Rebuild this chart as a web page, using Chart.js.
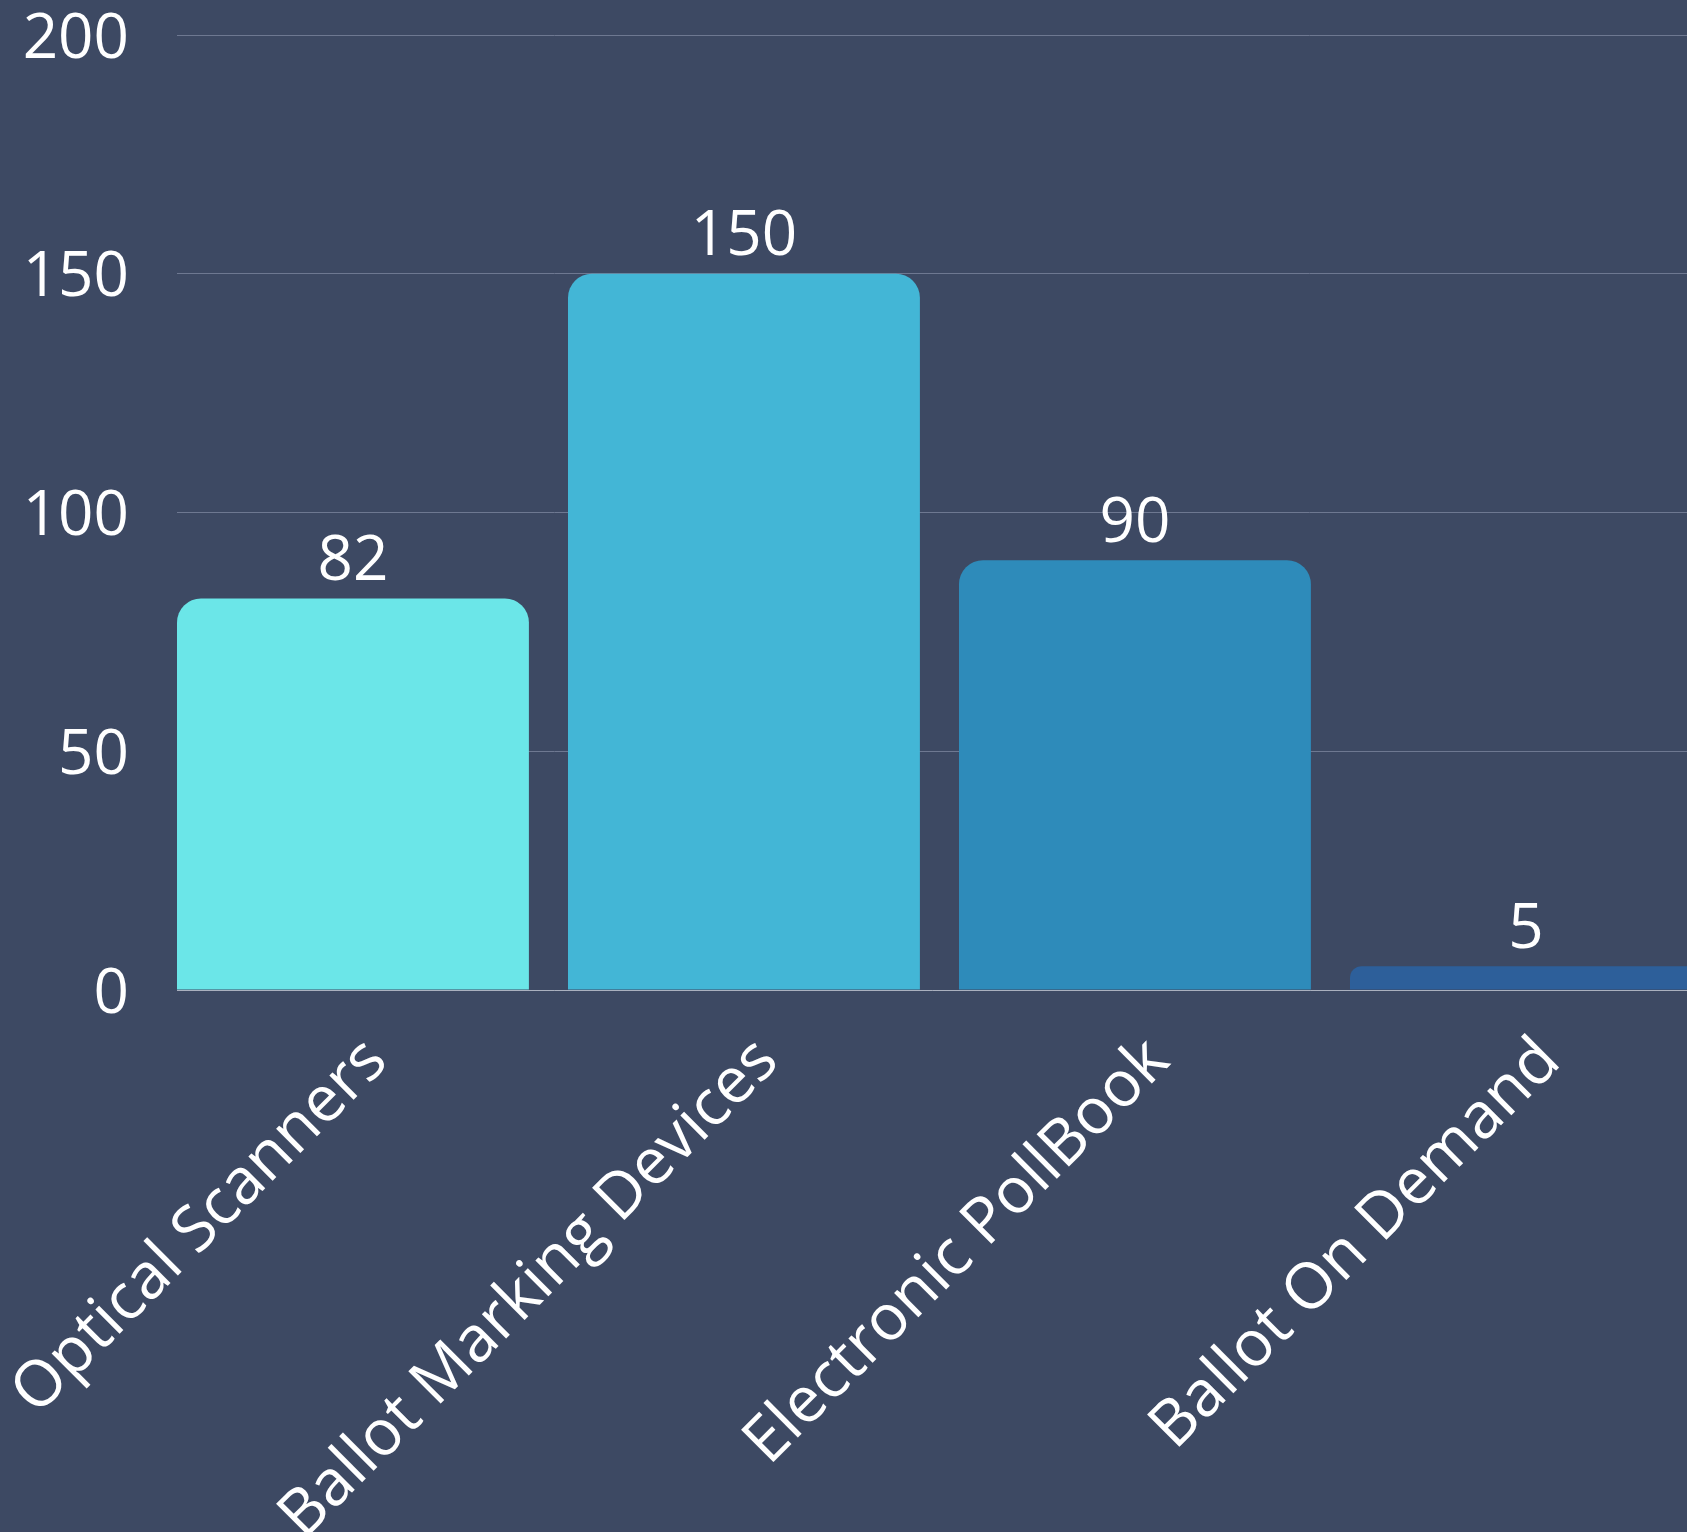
<!DOCTYPE html>
<html lang="en">
<head>
<meta charset="UTF-8">
<title>Voting Equipment</title>
<script src="https://cdn.jsdelivr.net/npm/chart.js"></script>
<style>
  html, body { margin: 0; padding: 0; background: #3d4963; overflow: hidden; }
  .wrap { width: 1687px; height: 1532px; position: relative; }
</style>
</head>
<body>
<div class="wrap">
  <canvas id="bar-chart"></canvas>
</div>
<script>
  // dados
  const categories = ['Optical Scanners', 'Ballot Marking Devices', 'Electronic PollBook', 'Ballot On Demand'];
  const counts = [82, 150, 90, 5];
  const barColors = ['#6be6e8', '#43b6d6', '#2e8bba', '#2d5f9a'];
  const yTicks = [0, 50, 100, 150, 200];

  const font = "'Open Sans', sans-serif";

  // valores por cima das barras
  const valueLabels = {
    id: 'valueLabels',
    afterDatasetsDraw(chart) {
      const ctx = chart.ctx;
      ctx.save();
      ctx.fillStyle = '#ffffff';
      ctx.font = '62px ' + font;
      ctx.textAlign = 'center';
      ctx.textBaseline = 'middle';
      chart.getDatasetMeta(0).data.forEach((bar, i) => {
        ctx.fillText(counts[i], bar.x, bar.y - 36);
      });
      ctx.restore();
    }
  };

  new Chart(document.getElementById('bar-chart'), {
    type: 'bar',
    data: {
      datasets: [{
        data: counts.map((v, i) => ({ x: i, y: v })),
        backgroundColor: barColors,
        borderRadius: 24,
        borderSkipped: 'start',
        categoryPercentage: 1,
        barPercentage: 0.9
      }]
    },
    options: {
      responsive: true,
      maintainAspectRatio: false,
      animation: false,
      layout: { padding: { top: 35, left: 0, right: 0, bottom: 0 } },
      plugins: {
        legend: { display: false },
        tooltip: { enabled: false }
      },
      scales: {
        x: {
          type: 'linear',
          offset: false,
          min: -0.45,
          max: -0.45 + 1510 / 391,
          grid: { display: false, offset: false },
          border: { display: true, color: '#aab0be', width: 1 },
          afterBuildTicks: s => { s.ticks = categories.map((_, i) => ({ value: i })); },
          afterFit: s => {
            s.height = 542;
            s.paddingLeft = 0; s.paddingRight = 0; s.paddingTop = 0; s.paddingBottom = 0;
          },
          ticks: {
            autoSkip: false,
            minRotation: 45,
            maxRotation: 45,
            padding: 30,
            labelOffset: 24,
            color: '#ffffff',
            font: { family: font, size: 64, lineHeight: 1 },
            callback: v => categories[v]
          }
        },
        y: {
          min: 0,
          max: 200,
          grid: { color: '#6e7891', lineWidth: 1, drawTicks: false },
          border: { display: false },
          afterBuildTicks: s => { s.ticks = yTicks.map(v => ({ value: v })); },
          afterFit: s => {
            s.width = 177;
            s.paddingLeft = 0; s.paddingRight = 0; s.paddingTop = 0; s.paddingBottom = 0;
          },
          ticks: {
            padding: 48,
            labelOffset: 5,
            color: '#ffffff',
            font: { family: font, size: 62, lineHeight: 1 }
          }
        }
      }
    },
    plugins: [valueLabels]
  });
</script>
</body>
</html>
